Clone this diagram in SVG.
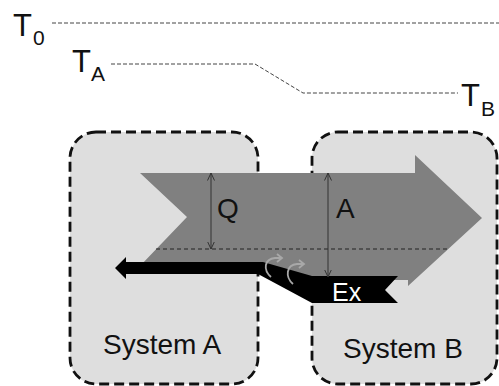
<svg xmlns="http://www.w3.org/2000/svg" width="499" height="386" viewBox="0 0 499 386">
<style>
.lbl{font-family:"Liberation Sans",Arial,sans-serif;fill:#111}
.big{font-size:31px}
.sub{font-size:21px}
.sys{font-size:28px}
.box{fill:#dedede;stroke:#111;stroke-width:2.8;stroke-dasharray:10 5}
.lvl{fill:none;stroke:#444;stroke-width:1;stroke-dasharray:4 2}
.dim{fill:none;stroke:#333;stroke-width:1;marker-start:url(#v);marker-end:url(#v)}
.curl{fill:none;stroke:#a8a8a8;stroke-width:1.8}
</style>
<defs>
<marker id="v" viewBox="0 0 8 8" refX="7.5" refY="4" markerWidth="8" markerHeight="8" markerUnits="userSpaceOnUse" orient="auto-start-reverse">
<path d="M0,0.5 L7.5,4 L0,7.5" fill="none" stroke="#333" stroke-width="1"/>
</marker>
</defs>
<rect width="499" height="386" fill="#fff"/>
<g id="systemA">
<rect class="box" x="70" y="132" width="188" height="252" rx="26"/>
<text class="lbl sys" x="103" y="354">System A</text>
</g>
<g id="systemB">
<rect class="box" x="312" y="132" width="185" height="252" rx="26"/>
<text class="lbl sys" x="343" y="358">System B</text>
</g>
<g id="levels">
<g id="T0"><text class="lbl big" x="13" y="36">T</text><text class="lbl sub" x="33" y="45">0</text></g>
<g id="TA"><text class="lbl big" x="72" y="72">T</text><text class="lbl sub" x="91" y="81">A</text></g>
<g id="TB"><text class="lbl big" x="461" y="106">T</text><text class="lbl sub" x="481" y="116">B</text></g>
</g>
<g id="heat">
<polygon fill="#808080" points="140,173 415,173 415,155 482,218 408,286 408,280 312,280 262,266 140,266 187,217"/>
<path d="M156,249 H447" fill="none" stroke="#222" stroke-width="1" stroke-dasharray="4 3"/>
<text class="lbl sys" x="217" y="218">Q</text>
<text class="lbl sys" x="336" y="218">A</text>
</g>
<g id="exergy">
<polygon fill="#000" points="115,268 126,257 126,262 263,262 312,276 398,276 385,290 398,303 312,303 258,274 126,274 126,279"/>
<text x="332" y="301" font-family="Liberation Sans,Arial,sans-serif" font-size="25" fill="#fff">Ex</text>
<path class="curl" d="M271,277 C263,270 264,259 275,258 L281,258"/>
<path class="curl" d="M277,254 L282,258 L277,262"/>
<path class="curl" d="M293,284 C285,277 286,265 297,264 L303,264"/>
<path class="curl" d="M299,260 L304,264 L299,268"/>
</g>
<g id="connectors">
<path class="lvl" d="M52,23 H499"/>
<path class="lvl" d="M111,64 H255 L303,93 H458"/>
<path class="dim" d="M211,173 V249"/>
<path class="dim" d="M328,173 V277"/>
</g>
</svg>
